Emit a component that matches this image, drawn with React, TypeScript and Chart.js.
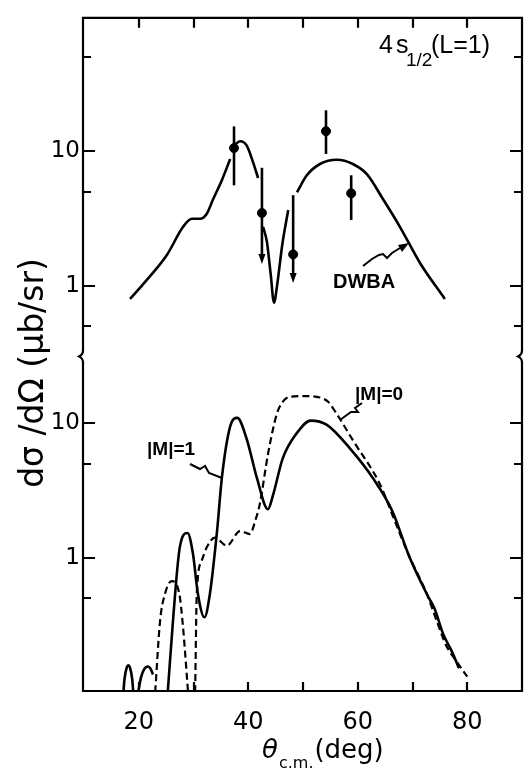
import React, { useEffect, useRef } from 'react';
import { Chart, registerables } from 'chart.js';

Chart.register(...registerables);

// ---- axes ----
const X_MIN = 10;
const X_MAX = 90;
const X_TICK_MARKS = [20, 30, 40, 50, 60, 70, 80];
const X_TICK_LABELS = [20, 40, 60, 80];

const UPPER_MIN = 0.31;
const UPPER_MAX = 97;
const LOWER_MIN = 0.1;
const LOWER_MAX = 31.6;
const UPPER_MAJOR = [1, 10];
const UPPER_MINOR = [0.5, 5, 50];
const LOWER_MAJOR = [1, 10];
const LOWER_MINOR = [0.5, 5];

// ---- upper panel: DWBA curve (segments) ----
const DWBA_ANGLE = [
  [18.4, 20.8, 25.2, 28.1, 29.7, 31.2, 32.4, 33.6, 35.2, 36.7],
  [37.4, 38.5, 39.7, 40.9, 41.8],
  [42.7, 43.4, 44.1, 44.7, 45.3, 46.2, 47.3],
  [48.9, 50.7, 53.1, 56.2, 59.1, 61.7, 64.6, 67.7, 71.4, 75.9],
];
const DWBA_VALUE = [
  [0.8, 1.03, 1.71, 2.74, 3.14, 3.14, 3.41, 4.4, 6.1, 8.7],
  [11.0, 11.8, 11.0, 8.2, 6.3],
  [2.74, 2.13, 1.22, 0.75, 1.03, 2.0, 3.65],
  [4.94, 6.6, 8.0, 8.6, 8.0, 6.7, 4.4, 2.74, 1.47, 0.8],
];

// ---- upper panel: measured points ----
const EXP_ANGLE = [37.4, 42.5, 48.2, 54.2, 58.8];
const EXP_VALUE = [10.5, 3.47, 1.71, 14.0, 4.85];
const EXP_ERR_HIGH = [15.2, 7.5, 4.7, 20.0, 6.6];
const EXP_ERR_LOW = [5.56, 1.45, 1.05, 9.5, 3.08];
const EXP_UPPER_LIMIT = [false, true, true, false, false];

// ---- lower panel: |M|=1 (solid) ----
const M1_ANGLE = [
  [17.2, 17.4, 17.8, 18.1, 18.4, 18.8, 19.0],
  [19.9, 20.4, 21.0, 21.7, 22.2, 22.6],
  [25.3, 26.3, 27.5, 28.9, 29.9, 30.8, 32.0, 33.0, 34.3, 35.2, 36.7, 38.0, 39.7, 41.6, 43.6, 44.5, 46.3, 48.8, 51.4, 54.3, 58.6, 62.8, 66.3, 69.5, 72.9, 74.0, 75.6, 77.2, 78.5],
];
const M1_VALUE = [
  [0.1, 0.125, 0.152, 0.158, 0.152, 0.125, 0.1],
  [0.1, 0.128, 0.148, 0.155, 0.148, 0.135],
  [0.1, 0.36, 1.2, 1.53, 1.07, 0.54, 0.36, 0.54, 1.58, 4.0, 9.5, 11.0, 7.7, 3.9, 2.3, 2.9, 5.5, 8.4, 10.5, 9.8, 6.5, 3.9, 2.23, 1.0, 0.51, 0.42, 0.27, 0.2, 0.15],
];

// ---- lower panel: |M|=0 (dashed) ----
const M0_ANGLE = [
  [23.0, 23.9, 24.8, 26.0, 27.4, 28.1, 29.0],
  [30.3, 30.6, 31.5, 32.4, 33.9, 36.1, 38.5, 40.3, 41.3, 42.1, 43.6, 45.2, 46.3, 47.6, 50.0, 53.1, 54.6, 56.2, 59.2, 64.1, 66.3, 69.2, 72.6, 74.4, 76.2, 78.0, 80.0],
];
const M0_VALUE = [
  [0.1, 0.34, 0.54, 0.67, 0.54, 0.3, 0.1],
  [0.1, 0.54, 0.95, 1.19, 1.41, 1.23, 1.58, 1.5, 1.9, 2.5, 5.9, 11.7, 14.5, 15.8, 16.0, 15.6, 14.5, 11.7, 7.4, 3.5, 2.1, 1.07, 0.54, 0.34, 0.22, 0.17, 0.13],
];

const toPoints = (xs: number[], ys: number[]) => xs.map((x, i) => ({ x, y: ys[i] }));

const decoPlugin = {
  id: 'deco',
  afterDatasetsDraw(chart: any) {
    const { ctx, scales } = chart;
    const xs = scales.x;
    const yu = scales.yUp;
    ctx.save();
    ctx.strokeStyle = '#000';
    ctx.fillStyle = '#000';
    ctx.lineWidth = 2.6;
    EXP_ANGLE.forEach((ang, i) => {
      const px = xs.getPixelForValue(ang);
      const top = yu.getPixelForValue(EXP_ERR_HIGH[i]);
      const bot = yu.getPixelForValue(EXP_ERR_LOW[i]);
      ctx.beginPath();
      ctx.moveTo(px, top);
      ctx.lineTo(px, EXP_UPPER_LIMIT[i] ? bot - 6 : bot);
      ctx.stroke();
      if (EXP_UPPER_LIMIT[i]) {
        ctx.beginPath();
        ctx.moveTo(px - 3.5, bot - 10);
        ctx.lineTo(px + 3.5, bot - 10);
        ctx.lineTo(px, bot);
        ctx.closePath();
        ctx.fill();
      }
    });
    ctx.restore();
  },
  afterDraw(chart: any) {
    const { ctx, chartArea: a, scales } = chart;
    const xs = scales.x;
    const yu = scales.yUp;
    const yl = scales.yLo;
    ctx.save();
    ctx.strokeStyle = '#000';
    ctx.fillStyle = '#000';
    ctx.lineWidth = 2.2;
    const L = a.left - 1;
    const R = a.right;
    const T = a.top;
    const B = a.bottom - 1;
    // frame
    ctx.beginPath();
    ctx.moveTo(L, T);
    ctx.lineTo(R, T);
    ctx.lineTo(R, B);
    ctx.lineTo(L, B);
    ctx.closePath();
    ctx.stroke();
    // x ticks (inward, top & bottom)
    X_TICK_MARKS.forEach((v) => {
      const px = Math.round(xs.getPixelForValue(v));
      ctx.beginPath();
      ctx.moveTo(px, B);
      ctx.lineTo(px, B - 9);
      ctx.moveTo(px, T);
      ctx.lineTo(px, T + 10);
      ctx.stroke();
    });
    // y ticks (inward, left & right)
    const yTick = (scale: any, v: number, len: number) => {
      const py = Math.round(scale.getPixelForValue(v));
      ctx.beginPath();
      ctx.moveTo(L, py);
      ctx.lineTo(L + len, py);
      ctx.moveTo(R, py);
      ctx.lineTo(R - len, py);
      ctx.stroke();
    };
    UPPER_MAJOR.forEach((v) => yTick(yu, v, 12));
    UPPER_MINOR.forEach((v) => yTick(yu, v, 8));
    LOWER_MAJOR.forEach((v) => yTick(yl, v, 12));
    LOWER_MINOR.forEach((v) => yTick(yl, v, 8));
    // axis break marks
    const yb = yu.bottom;
    [L, R].forEach((ax) => {
      ctx.fillStyle = '#fff';
      ctx.fillRect(ax - 2, yb - 5, 4, 10);
      ctx.fillStyle = '#000';
      ctx.beginPath();
      ctx.moveTo(ax, yb - 6);
      ctx.quadraticCurveTo(ax, yb - 2, ax - 4, yb);
      ctx.quadraticCurveTo(ax, yb + 2, ax, yb + 6);
      ctx.stroke();
    });

    // y-axis title
    ctx.save();
    ctx.translate(43, 373);
    ctx.rotate(-Math.PI / 2);
    ctx.font = '33px "DejaVu Sans"';
    ctx.textAlign = 'center';
    ctx.textBaseline = 'alphabetic';
    ctx.fillText('dσ /dΩ (μb/sr)', 0, 0);
    ctx.restore();

    // x-axis title
    ctx.textAlign = 'left';
    ctx.textBaseline = 'alphabetic';
    let tx = 262;
    ctx.font = 'italic 26px "DejaVu Sans"';
    ctx.fillText('θ', tx, 758);
    tx += ctx.measureText('θ').width + 1;
    ctx.font = '16px "DejaVu Sans"';
    ctx.fillText('c.m.', tx, 768);
    tx += ctx.measureText('c.m.').width + 1;
    ctx.font = '26px "DejaVu Sans"';
    ctx.fillText('(deg)', tx, 758);

    // panel label
    ctx.font = '25px "Liberation Sans"';
    ctx.fillText('4', 379, 53);
    ctx.fillText('s', 396, 53);
    ctx.font = '19px "Liberation Sans"';
    ctx.fillText('1/2', 406, 66);
    ctx.font = '25px "Liberation Sans"';
    ctx.fillText('(L=1)', 431, 53);

    // curve labels
    ctx.font = 'bold 20px "Liberation Sans"';
    ctx.fillText('DWBA', 333, 288);
    ctx.font = 'bold 19px "Liberation Sans"';
    ctx.fillText('|M|=1', 147, 455);
    ctx.fillText('|M|=0', 355, 400);

    // squiggle arrows
    ctx.lineWidth = 2;
    const squiggle = (pts: number[][]) => {
      ctx.beginPath();
      ctx.moveTo(pts[0][0], pts[0][1]);
      for (let i = 1; i < pts.length; i++) ctx.lineTo(pts[i][0], pts[i][1]);
      ctx.stroke();
    };
    squiggle([[363, 266], [372, 259], [379, 255], [383, 254], [387, 258], [392, 253], [400, 248]]);
    ctx.beginPath();
    ctx.moveTo(409, 243);
    ctx.lineTo(398, 245);
    ctx.lineTo(402, 252);
    ctx.closePath();
    ctx.fill();
    squiggle([[190, 464], [200, 469], [205, 466], [209, 473], [222, 478]]);
    squiggle([[362, 403], [355, 408], [358, 412], [351, 412], [340, 420]]);
    ctx.restore();
  },
};

export default function App() {
  const ref = useRef<HTMLCanvasElement>(null);
  useEffect(() => {
    const canvas = ref.current;
    if (!canvas) return;
    const datasets: any[] = [];
    const lineBase = {
      type: 'line',
      borderColor: '#000',
      backgroundColor: '#000',
      borderWidth: 2.6,
      pointRadius: 0,
      fill: false,
      cubicInterpolationMode: 'monotone',
    };
    DWBA_ANGLE.forEach((xsArr, i) =>
      datasets.push({ ...lineBase, label: 'DWBA', data: toPoints(xsArr, DWBA_VALUE[i]), yAxisID: 'yUp' })
    );
    datasets.push({
      type: 'scatter',
      label: 'data',
      data: toPoints(EXP_ANGLE, EXP_VALUE),
      yAxisID: 'yUp',
      pointRadius: 4.5,
      pointBackgroundColor: '#000',
      pointBorderColor: '#000',
      showLine: false,
    });
    M1_ANGLE.forEach((xsArr, i) =>
      datasets.push({ ...lineBase, label: '|M|=1', data: toPoints(xsArr, M1_VALUE[i]), yAxisID: 'yLo' })
    );
    M0_ANGLE.forEach((xsArr, i) =>
      datasets.push({ ...lineBase, label: '|M|=0', borderWidth: 2.2, borderDash: [7, 4], data: toPoints(xsArr, M0_VALUE[i]), yAxisID: 'yLo' })
    );

    const yAxis = (min: number, max: number, weight: number, labels: number[]) => ({
      type: 'logarithmic',
      position: 'left',
      stack: 'panels',
      stackWeight: weight,
      min,
      max,
      grid: { display: false, drawTicks: false },
      border: { display: false },
      afterBuildTicks: (s: any) => {
        s.ticks = labels.map((v) => ({ value: v }));
      },
      afterFit: (s: any) => {
        s.width = 84;
      },
      ticks: {
        color: '#000',
        font: { family: 'DejaVu Sans', size: 23 },
        padding: 4,
        autoSkip: false,
        callback: (v: any) => String(v),
      },
    });

    const chart = new Chart(canvas, {
      type: 'line',
      data: { datasets },
      options: {
        animation: false,
        responsive: false,
        maintainAspectRatio: false,
        layout: { padding: { top: 13, right: 6, left: 0, bottom: 0 } },
        plugins: { legend: { display: false }, tooltip: { enabled: false } },
        scales: {
          x: {
            type: 'linear',
            position: 'bottom',
            min: X_MIN,
            max: X_MAX,
            grid: { display: false, drawTicks: false },
            border: { display: false },
            afterBuildTicks: (s: any) => {
              s.ticks = X_TICK_LABELS.map((v) => ({ value: v }));
            },
            afterFit: (s: any) => {
              s.height = 78;
            },
            ticks: {
              color: '#000',
              font: { family: 'DejaVu Sans', size: 24 },
              padding: 16,
              maxRotation: 0,
              autoSkip: false,
              callback: (v: any) => String(v),
            },
          },
          yLo: yAxis(LOWER_MIN, LOWER_MAX, 338, LOWER_MAJOR),
          yUp: yAxis(UPPER_MIN, UPPER_MAX, 341, UPPER_MAJOR),
        } as any,
      },
      plugins: [decoPlugin],
    } as any);
    return () => chart.destroy();
  }, []);
  return (
    <div style={{ position: 'absolute', left: 0, top: 0, width: 528, height: 770, background: '#fff' }}>
      <canvas ref={ref} width={528} height={770} style={{ display: 'block' }} />
    </div>
  );
}
